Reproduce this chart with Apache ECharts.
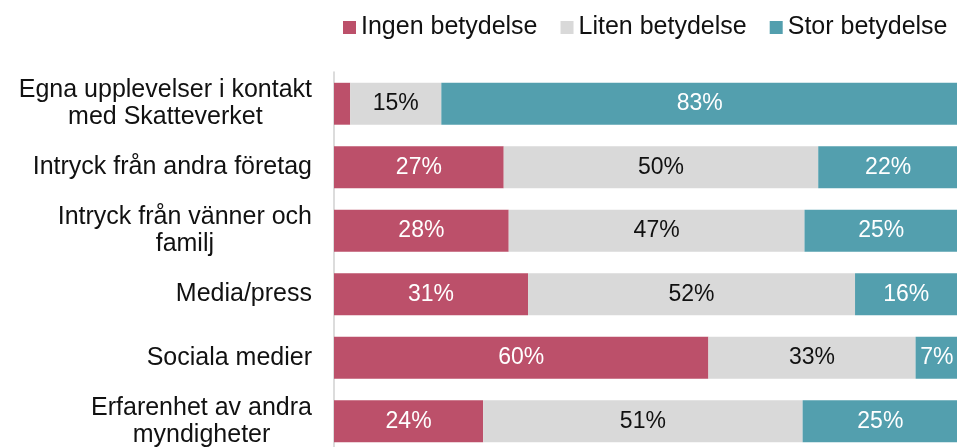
<!DOCTYPE html>
<html>
<head>
<meta charset="utf-8">
<script src="https://cdn.jsdelivr.net/npm/echarts@6/dist/echarts.min.js"></script>
<style>
  html, body { margin: 0; padding: 0; background: #fff; }
  #chart { width: 957px; height: 447px; }
</style>
</head>
<body>
<div id="chart"></div>
<script>
// kategorier (uppifrån och ned)
const categories = [
  'Egna upplevelser i kontakt\nmed Skatteverket',
  'Intryck från andra företag',
  'Intryck från vänner och\nfamilj',
  'Media/press',
  'Sociala medier',
  'Erfarenhet av andra\nmyndigheter'
]
const seriesNames = ['Ingen betydelse', 'Liten betydelse', 'Stor betydelse']
// andelar i procent (etiketterna avrundas)
const ingen = [2.6, 27.2, 28.0, 31.1, 60.0, 23.9]
const liten = [14.6, 50.4, 47.4, 52.4, 33.2, 51.2]
const stor = [82.8, 22.4, 24.6, 16.4, 6.8, 24.9]

const colors = ['#BC506A', '#D9D9D9', '#539FAE']
const labelColors = ['#ffffff', '#111111', '#ffffff']

const chart = echarts.init(document.getElementById('chart'))

const makeSeries = (name, data, idx) => ({
  name: name,
  type: 'bar',
  stack: 'total',
  barWidth: '66%',
  data: data,
  itemStyle: { color: colors[idx] },
  label: {
    show: true,
    position: 'inside',
    fontFamily: 'Liberation Sans',
    fontSize: 23,
    color: labelColors[idx],
    // dölj etiketten för mycket smala segment
    formatter: (p) => (p.value < 5 ? '' : Math.round(p.value) + '%')
  }
})

const option = {
  animation: false,
  color: colors,
  legend: {
    top: 10,
    left: 338,
    icon: 'rect',
    itemWidth: 13,
    itemHeight: 13,
    itemGap: 23,
    textStyle: {
      fontFamily: 'Liberation Sans',
      fontSize: 25,
      color: '#111'
    },
    data: seriesNames
  },
  // staplarna går något utanför bildens kanter, som i originalet
  grid: {
    left: 334,
    top: 72,
    width: 624,
    height: 381,
    outerBoundsMode: 'none',
    containLabel: false
  },
  xAxis: {
    type: 'value',
    min: 0,
    max: 100,
    show: false
  },
  yAxis: {
    type: 'category',
    inverse: true,
    data: categories,
    axisLine: { show: true, lineStyle: { color: '#D0D0D0', width: 1.5 } },
    axisTick: { show: false },
    axisLabel: {
      margin: 22,
      formatter: (v) => v.split('\n').map((s) => '{c|' + s + '}').join('\n'),
      rich: {
        c: {
          fontFamily: 'Liberation Sans',
          fontSize: 25,
          color: '#111',
          lineHeight: 27,
          align: 'center'
        }
      }
    }
  },
  series: [
    makeSeries(seriesNames[0], ingen, 0),
    makeSeries(seriesNames[1], liten, 1),
    makeSeries(seriesNames[2], stor, 2)
  ]
}

chart.setOption(option)
</script>
</body>
</html>
